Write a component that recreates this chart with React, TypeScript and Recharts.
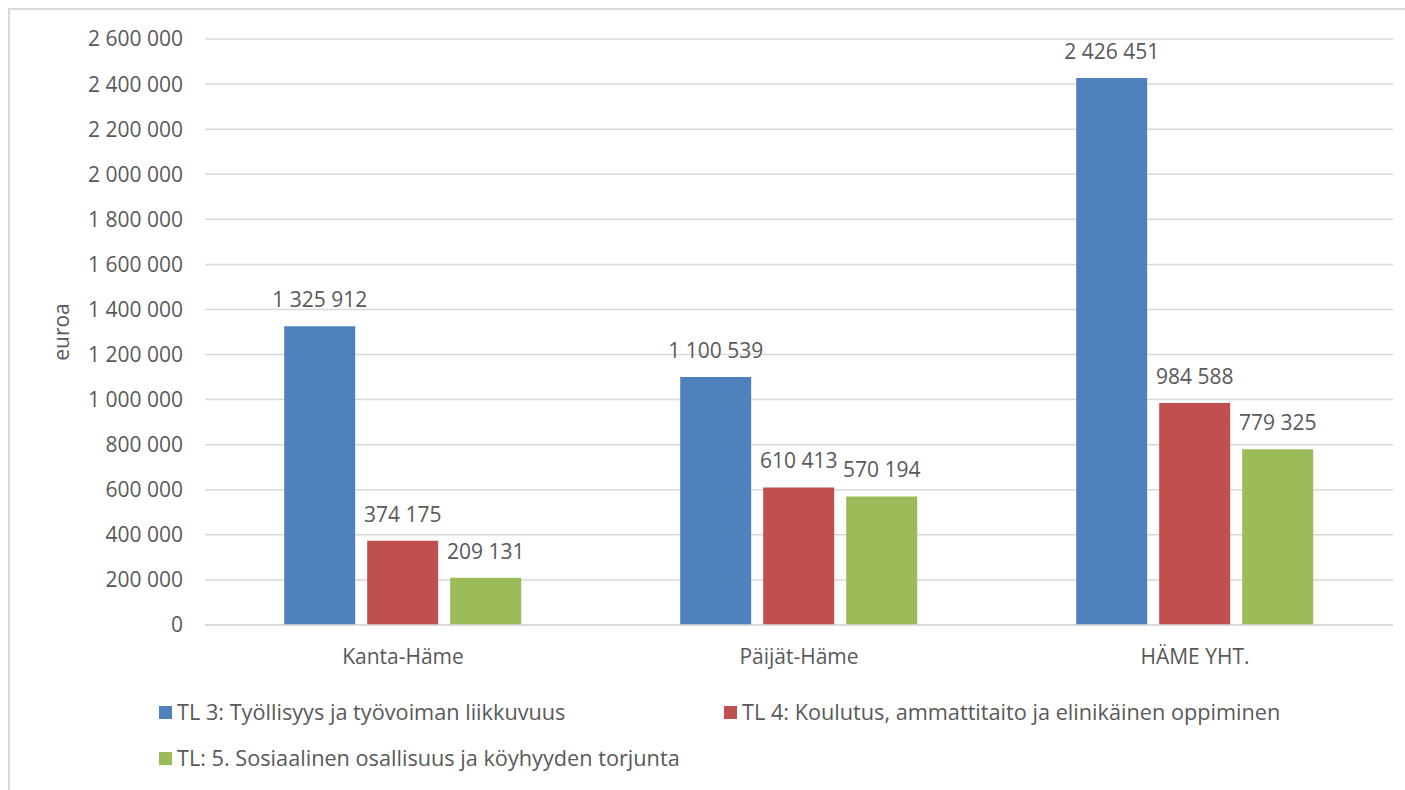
import { Bar, BarChart, CartesianGrid, LabelList, XAxis, YAxis } from "recharts";

const regions = ["Kanta-Häme", "Päijät-Häme", "HÄME YHT."];
const tl3 = [1325912, 1100539, 2426451];
const tl4 = [374175, 610413, 984588];
const tl5 = [209131, 570194, 779325];
const yTicks = [0, 200000, 400000, 600000, 800000, 1000000, 1200000, 1400000, 1600000, 1800000, 2000000, 2200000, 2400000, 2600000];

const seriesNames = {
  tl3: "TL 3: Työllisyys ja työvoiman liikkuvuus",
  tl4: "TL 4: Koulutus, ammattitaito ja elinikäinen oppiminen",
  tl5: "TL: 5. Sosiaalinen osallisuus ja köyhyyden torjunta",
};

const colors = { tl3: "#4F81BD", tl4: "#C0504D", tl5: "#9BBB59" };

const data = regions.map((name, i) => ({ name, tl3: tl3[i], tl4: tl4[i], tl5: tl5[i] }));

// thousands separated by a non-breaking space so labels never wrap
const fmt = (v: number) => String(v).replace(/\B(?=(\d{3})+(?!\d))/g, "\u00A0");

const FONT = "'Open Sans', sans-serif";
const FS = 21;
const TEXT = "#595959";

function LegendItem({ k, left, top }: { k: keyof typeof colors; left: number; top: number }) {
  return (
    <div style={{ position: "absolute", left, top, height: 24, display: "flex", alignItems: "center", whiteSpace: "nowrap" }}>
      <span style={{ width: 13, height: 13, background: colors[k], display: "inline-block", marginRight: 5 }} />
      <span style={{ fontSize: 21.7, color: TEXT, fontFamily: FONT, lineHeight: "24px" }}>{seriesNames[k]}</span>
    </div>
  );
}

export default function App() {
  return (
    <div style={{ position: "fixed", left: 0, top: 0, width: 1405, height: 790, background: "#fff", overflow: "hidden" }}>
      <div
        style={{
          position: "absolute",
          left: 8,
          top: 8,
          width: 1420,
          height: 800,
          borderLeft: "2px solid #D9D9D9",
          borderTop: "2px solid #D9D9D9",
        }}
      />
      <div style={{ position: "absolute", left: 0, top: 0 }}>
        <BarChart
          width={1405}
          height={790}
          data={data}
          margin={{ top: 39, right: 12, bottom: 135, left: 0 }}
          barCategoryGap="20%"
          barGap={12}
        >
          <CartesianGrid vertical={false} stroke="#D9D9D9" strokeWidth={1.5} />
          <XAxis
            dataKey="name"
            axisLine={{ stroke: "#D9D9D9", strokeWidth: 1.5 }}
            tickLine={false}
            tickSize={0}
            tickMargin={24}
            height={30}
            tick={{ fontSize: FS, fill: TEXT, fontFamily: FONT }}
          />
          <YAxis
            width={205}
            domain={[0, 2600000]}
            ticks={yTicks}
            interval={0}
            axisLine={false}
            tickLine={false}
            tickSize={0}
            tickMargin={22}
            tickFormatter={fmt}
            tick={{ fontSize: FS, fill: TEXT, fontFamily: FONT }}
            label={{
              content: () => (
                <text
                  x={69}
                  y={332}
                  transform="rotate(-90 69 332)"
                  textAnchor="middle"
                  fontSize={FS}
                  fill={TEXT}
                  fontFamily={FONT}
                >
                  euroa
                </text>
              ),
            }}
          />
          {(["tl3", "tl4", "tl5"] as const).map((k) => (
            <Bar key={k} dataKey={k} name={seriesNames[k]} fill={colors[k]} isAnimationActive={false}>
              <LabelList
                dataKey={k}
                position="top"
                offset={19}
                formatter={(v: number) => fmt(v)}
                style={{ fontSize: FS, fill: TEXT, fontFamily: FONT }}
              />
            </Bar>
          ))}
        </BarChart>
      </div>
      <LegendItem k="tl3" left={159} top={700} />
      <LegendItem k="tl4" left={724} top={700} />
      <LegendItem k="tl5" left={159} top={746} />
    </div>
  );
}
